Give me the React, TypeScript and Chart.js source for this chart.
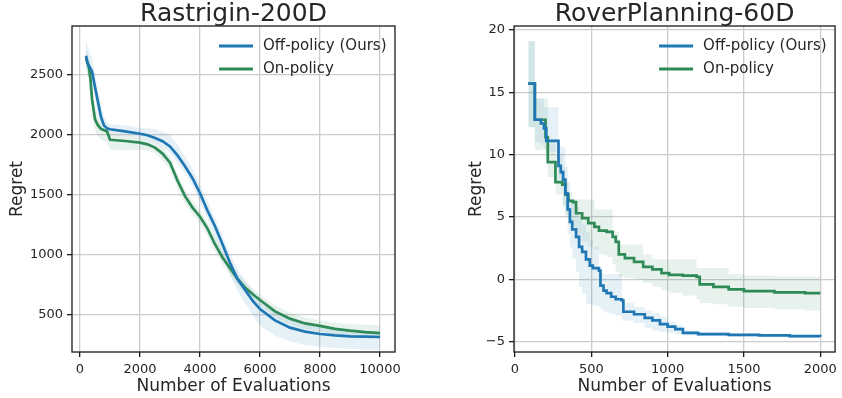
import React, { useEffect, useRef } from 'react';
import { Chart, registerables } from 'chart.js';

Chart.register(...registerables);

const FONT = "'DejaVu Sans', sans-serif";
const TEXT = '#262626';
const BLUE = '#1f77b4';
const GREEN = '#2e8b57';
const BLUE_BAND = 'rgba(31,119,180,0.11)';
const GREEN_BAND = 'rgba(46,139,87,0.11)';

const SERIES_OFF = 'Off-policy (Ours)';
const SERIES_ON = 'On-policy';

// ---------- Rastrigin-200D ----------
const rastOffX = [200, 250, 400, 500, 600, 700, 800, 900, 1000, 1500, 2000, 2250, 2500, 2750, 3000, 3250, 3500, 3750, 4000, 4250, 4500, 4750, 5000, 5250, 5500, 5750, 6000, 6500, 7000, 7500, 8000, 8500, 9000, 9500, 10000];
const rastOffMean = [2660, 2600, 2530, 2400, 2275, 2150, 2080, 2055, 2048, 2030, 2010, 1998, 1975, 1948, 1905, 1830, 1740, 1640, 1515, 1370, 1240, 1090, 935, 800, 710, 620, 550, 455, 395, 362, 342, 330, 323, 320, 317];
const rastOffUpper = [2800, 2740, 2640, 2500, 2380, 2250, 2150, 2110, 2090, 2080, 2060, 2055, 2050, 2030, 2000, 1920, 1820, 1720, 1590, 1450, 1310, 1160, 1010, 880, 790, 700, 620, 520, 460, 420, 400, 385, 375, 372, 370];
const rastOffLower = [2560, 2500, 2430, 2300, 2180, 2080, 2040, 2030, 2020, 2000, 1980, 1960, 1940, 1900, 1850, 1770, 1680, 1580, 1440, 1300, 1150, 990, 830, 700, 600, 500, 410, 330, 280, 250, 235, 225, 218, 213, 210];

const rastOnX = [200, 300, 350, 400, 500, 600, 700, 900, 1000, 1500, 2000, 2250, 2500, 2750, 3000, 3250, 3500, 3750, 4000, 4250, 4500, 4750, 5000, 5250, 5500, 5750, 6000, 6500, 7000, 7500, 8000, 8500, 9000, 9500, 10000];
const rastOnMean = [2640, 2560, 2460, 2300, 2130, 2080, 2050, 2030, 1960, 1950, 1936, 1922, 1895, 1845, 1770, 1620, 1490, 1395, 1319, 1220, 1090, 980, 890, 800, 730, 675, 625, 530, 470, 430, 410, 385, 370, 358, 350];
const rastOnUpper = [2720, 2640, 2560, 2420, 2250, 2150, 2100, 2070, 2020, 2000, 1980, 1965, 1950, 1900, 1820, 1670, 1540, 1450, 1370, 1270, 1150, 1040, 940, 850, 780, 720, 670, 580, 520, 480, 455, 435, 425, 418, 415];
const rastOnLower = [2560, 2480, 2380, 2200, 2040, 1990, 1960, 1940, 1880, 1870, 1880, 1870, 1850, 1790, 1710, 1550, 1430, 1340, 1260, 1160, 1030, 920, 840, 750, 680, 630, 580, 480, 420, 385, 360, 340, 325, 315, 305];

const rastXTicks = [0, 2000, 4000, 6000, 8000, 10000];
const rastYTicks = [500, 1000, 1500, 2000, 2500];

// ---------- RoverPlanning-60D ----------
const roverOffX = [87, 130, 170, 190, 205, 285, 300, 315, 330, 345, 360, 375, 400, 420, 440, 465, 490, 510, 550, 560, 580, 600, 630, 660, 700, 710, 780, 850, 900, 950, 1000, 1050, 1100, 1200, 1400, 1600, 1800, 2000];
const roverOffMean = [15.7, 12.8, 12.5, 12.1, 11.1, 9.1, 8.6, 8.0, 6.9, 5.6, 4.6, 4.0, 3.4, 2.6, 2.2, 1.6, 1.1, 0.9, 0.7, -0.5, -0.9, -1.1, -1.4, -1.6, -1.7, -2.6, -2.8, -3.1, -3.3, -3.6, -3.8, -4.0, -4.3, -4.4, -4.45, -4.5, -4.55, -4.6];
const roverOffUpper = [19.1, 14.5, 14.5, 13.8, 13.8, 10.8, 10.6, 10.6, 9.0, 7.8, 7.0, 6.2, 5.8, 5.0, 4.4, 3.8, 3.2, 2.6, 0.5, 0.5, 0.4, 0.4, 0.4, 0.4, -1.8, -1.9, -2.2, -2.5, -2.7, -3.0, -3.4, -3.7, -4.1, -4.25, -4.35, -4.4, -4.45, -4.5];
const roverOffLower = [12.2, 11.0, 10.8, 10.5, 10.2, 8.0, 7.2, 5.8, 5.0, 3.6, 2.6, 1.6, 0.6, -0.6, -1.2, -2.0, -2.0, -2.1, -2.2, -2.4, -2.6, -2.7, -2.8, -2.9, -3.2, -3.3, -3.5, -3.9, -4.1, -4.2, -4.3, -4.4, -4.5, -4.55, -4.6, -4.65, -4.7, -4.7];

const roverOnX = [87, 130, 200, 215, 265, 310, 330, 350, 380, 400, 440, 480, 520, 550, 600, 640, 660, 680, 720, 780, 840, 900, 960, 1010, 1100, 1190, 1210, 1300, 1400, 1500, 1700, 1900, 2000];
const roverOnMean = [15.7, 12.8, 11.4, 9.4, 7.8, 7.6, 6.8, 6.3, 6.2, 5.3, 4.9, 4.5, 4.2, 3.9, 3.8, 3.4, 3.0, 2.0, 1.7, 1.4, 1.0, 0.8, 0.5, 0.35, 0.3, 0.2, -0.4, -0.6, -0.8, -0.95, -1.05, -1.1, -1.1];
const roverOnUpper = [19.1, 14.5, 14.5, 11.0, 10.0, 9.0, 7.8, 6.4, 6.4, 6.4, 6.4, 6.4, 5.6, 5.6, 5.6, 3.8, 3.8, 2.8, 2.8, 2.8, 2.0, 1.6, 1.6, 1.6, 1.6, 0.9, 0.9, 0.9, 0.4, 0.3, 0.25, 0.2, 0.2];
const roverOnLower = [12.2, 10.4, 9.6, 8.2, 6.8, 6.0, 5.2, 4.6, 4.2, 3.6, 3.0, 2.6, 2.4, 2.0, 1.8, 1.2, 0.6, 0.2, 0.1, 0.0, -0.3, -0.6, -0.9, -1.1, -1.3, -1.6, -1.9, -2.0, -2.2, -2.3, -2.4, -2.5, -2.5];

const roverXTicks = [0, 500, 1000, 1500, 2000];
const roverYTicks = [-5, 0, 5, 10, 15, 20];

const pts = (xs: number[], ys: number[]) => xs.map((x, i) => ({ x, y: ys[i] }));
const fmt = (v: number) => (v < 0 ? '\u2212' + Math.abs(v) : String(v));

type Panel = {
  title: string;
  offX: number[]; offMean: number[]; offUpper: number[]; offLower: number[];
  onX: number[]; onMean: number[]; onUpper: number[]; onLower: number[];
  xTicks: number[]; yTicks: number[];
  xMin: number; xMax: number; yMin: number; yMax: number;
  stepped: boolean;
  padLeft: number; padRight: number; yWidth: number;
};

function buildConfig(p: Panel): any {
  const step = p.stepped ? 'before' : false;
  const line = (data: any, color: string, label: string) => ({
    label, data, borderColor: color, backgroundColor: color, borderWidth: 2.7,
    pointRadius: 0, fill: false, stepped: step, tension: 0,
    borderJoinStyle: 'miter', borderCapStyle: 'butt',
  });
  const band = (data: any, color: string, fill: any) => ({
    label: '', data, borderColor: 'rgba(0,0,0,0)', backgroundColor: color, borderWidth: 1,
    pointRadius: 0, fill, stepped: step, tension: 0,
  });
  const decor = {
    id: 'decor',
    afterDatasetsDraw(chart: any) {
      const { ctx, chartArea: a } = chart;
      ctx.save();
      ctx.strokeStyle = '#1a1a1a';
      ctx.lineWidth = 1.3;
      ctx.strokeRect(a.left, a.top, a.right - a.left, a.bottom - a.top);
      ctx.restore();
    },
    afterDraw(chart: any) {
      const { ctx, chartArea: a } = chart;
      ctx.save();
      ctx.fillStyle = TEXT;
      ctx.font = `25px ${FONT}`;
      ctx.textAlign = 'center';
      ctx.textBaseline = 'alphabetic';
      ctx.fillText(p.title, (a.left + a.right) / 2, 21);
      const items = chart.data.datasets.filter((d: any) => d.label);
      items.forEach((d: any, i: number) => {
        const y = a.top + 20 + i * 23;
        ctx.strokeStyle = d.borderColor;
        ctx.lineWidth = 3;
        ctx.beginPath();
        ctx.moveTo(a.right - 176, y);
        ctx.lineTo(a.right - 142, y);
        ctx.stroke();
        ctx.fillStyle = TEXT;
        ctx.font = `15px ${FONT}`;
        ctx.textAlign = 'left';
        ctx.textBaseline = 'middle';
        ctx.fillText(d.label, a.right - 132, y);
      });
      ctx.restore();
    },
  };
  const gridOpts = { color: '#cccccc', lineWidth: 1.3, tickColor: '#1a1a1a', tickLength: 5, drawTicks: true };
  return {
    type: 'line',
    data: {
      datasets: [
        line(pts(p.offX, p.offMean), BLUE, SERIES_OFF),
        line(pts(p.onX, p.onMean), GREEN, SERIES_ON),
        band(pts(p.offX, p.offUpper), BLUE_BAND, '+1'),
        band(pts(p.offX, p.offLower), BLUE_BAND, false),
        band(pts(p.onX, p.onUpper), GREEN_BAND, '+1'),
        band(pts(p.onX, p.onLower), GREEN_BAND, false),
      ],
    },
    options: {
      animation: false,
      responsive: false,
      devicePixelRatio: 1,
      layout: { padding: { left: p.padLeft, right: p.padRight, top: 26, bottom: 0 } },
      plugins: { legend: { display: false }, title: { display: false }, tooltip: { enabled: false } },
      scales: {
        x: {
          type: 'linear', min: p.xMin, max: p.xMax,
          afterBuildTicks: (s: any) => { s.ticks = p.xTicks.map((v) => ({ value: v })); },
          afterFit: (s: any) => { s.height = 46; },
          grid: gridOpts,
          border: { display: false },
          ticks: { font: { family: FONT, size: 13 }, color: TEXT, padding: 5, maxRotation: 0, autoSkip: false, callback: (v: any) => fmt(Number(v)) },
          title: { display: true, text: 'Number of Evaluations', color: TEXT, font: { family: FONT, size: 17 }, padding: { top: 0, bottom: 1 } },
        },
        y: {
          type: 'linear', min: p.yMin, max: p.yMax,
          afterBuildTicks: (s: any) => { s.ticks = p.yTicks.map((v) => ({ value: v })); },
          afterFit: (s: any) => { s.width = p.yWidth; },
          grid: gridOpts,
          border: { display: false },
          ticks: { font: { family: FONT, size: 13 }, color: TEXT, padding: 4, autoSkip: false, callback: (v: any) => fmt(Number(v)) },
          title: { display: true, text: 'Regret', color: TEXT, font: { family: FONT, size: 17 }, padding: { top: 7, bottom: 0 } },
        },
      },
    },
    plugins: [decor],
  };
}

const leftPanel: Panel = {
  title: 'Rastrigin-200D',
  offX: rastOffX, offMean: rastOffMean, offUpper: rastOffUpper, offLower: rastOffLower,
  onX: rastOnX, onMean: rastOnMean, onUpper: rastOnUpper, onLower: rastOnLower,
  xTicks: rastXTicks, yTicks: rastYTicks,
  xMin: -267, xMax: 10500, yMin: 192, yMax: 2908,
  stepped: false, padLeft: 0, padRight: 26, yWidth: 72,
};

const rightPanel: Panel = {
  title: 'RoverPlanning-60D',
  offX: roverOffX, offMean: roverOffMean, offUpper: roverOffUpper, offLower: roverOffLower,
  onX: roverOnX, onMean: roverOnMean, onUpper: roverOnUpper, onLower: roverOnLower,
  xTicks: roverXTicks, yTicks: roverYTicks,
  xMin: -6.5, xMax: 2097, yMin: -5.83, yMax: 20.32,
  stepped: true, padLeft: 38, padRight: 4, yWidth: 55,
};

function PanelChart({ panel, left }: { panel: Panel; left: number }) {
  const ref = useRef<HTMLCanvasElement | null>(null);
  useEffect(() => {
    if (!ref.current) return;
    const chart = new Chart(ref.current, buildConfig(panel));
    return () => chart.destroy();
  }, [panel]);
  return (
    <canvas
      ref={ref}
      width={421}
      height={398}
      style={{ position: 'absolute', left, top: 0, width: 421, height: 398 }}
    />
  );
}

export default function App() {
  return (
    <div style={{ position: 'absolute', left: 0, top: 0, width: 842, height: 398, background: '#fff' }}>
      <PanelChart panel={leftPanel} left={0} />
      <PanelChart panel={rightPanel} left={421} />
    </div>
  );
}
